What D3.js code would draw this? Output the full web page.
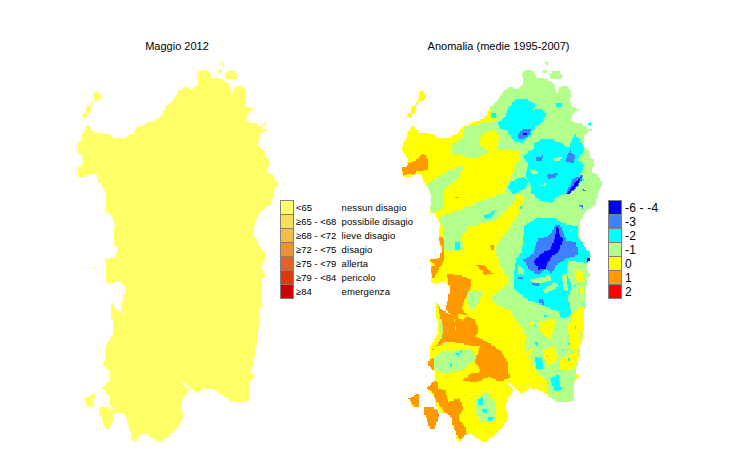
<!DOCTYPE html>
<html><head><meta charset="utf-8">
<script src="https://cdn.jsdelivr.net/npm/d3@7/dist/d3.min.js"></script>
<style>html,body{margin:0;padding:0;background:#fff}svg{display:block}text{font-family:"Liberation Sans",Arial,sans-serif;fill:#000}</style>
</head><body><div id="c"></div>
<script>
// Map sheets: each ring was traced on a sheet, offset here into one shared grid
const sheet = (dx,dy) => r => r.map(([x,y]) => [x+dx, y+dy]);
const south = sheet(0,585), nE = sheet(270,105), mE = sheet(300,495), sE = sheet(315,780);
const dots = list => list.map(([x,y]) => [[x,y],[x+6,y],[x+6,y+6],[x,y+6]]);

const coast = [[50,225],[53,205],[36,200],[40,190],[50,188],[47,172],[62,165],[72,145],[70,130],[82,124],[92,135],[90,150],[75,152],[64,165],[64,182],[52,192],[53,210],[50,225],[62,235],[70,248],[100,250],[115,252],[130,263],[165,262],[190,250],[200,232],[240,215],[262,208],[280,190],[285,170],[305,155],[325,125],[340,113],[370,115],[385,100],[380,67],[405,58],[420,70],[425,85],[445,85],[465,92],[480,105],[485,130],[495,112],[515,105],[530,130],[525,150],[530,170],[555,178],[535,190],[530,210],[545,222],[560,222],[585,240],[570,258],[565,285],[582,305],[585,322],[597,330],[592,365],[608,375],[623,398],[610,430],[603,465],[575,480],[555,515],[552,555],[575,600],[590,610],[575,655],[585,675],[575,690],[572,735],[568,815],[565,855],[558,885],[558,910],[548,935],[543,970],[555,977],[538,995],[535,1050],[515,1057],[490,1057],[465,1040],[435,1020],[405,1013],[385,1030],[365,1020],[345,1000],[330,993],[358,1020],[335,1050],[332,1075],[342,1095],[325,1130],[300,1155],[270,1177],[245,1165],[225,1150],[205,1160],[195,1178],[182,1165],[185,1150],[175,1135],[170,1105],[155,1090],[135,1090],[130,1075],[120,1065],[120,1045],[97,1015],[120,990],[118,965],[100,945],[105,910],[102,895],[130,850],[125,795],[125,757],[140,780],[165,792],[150,775],[160,745],[165,713],[150,693],[120,703],[108,693],[108,645],[103,630],[135,623],[140,595],[130,575],[135,520],[120,492],[103,485],[110,450],[103,420],[85,395],[78,370],[40,380],[25,380],[18,355],[35,350],[40,325],[18,300],[35,260]];
const islands = [
  south([[40,460],[75,445],[72,485],[55,488],[45,470]]),
  south([[90,485],[125,490],[132,510],[120,550],[105,550],[90,510]]),
  [[448,38],[462,35],[458,47]],
  [[445,60],[455,60],[455,70],[445,70]],
  [[460,72],[480,62],[497,65],[500,90],[470,90]],
  [[575,225],[590,213],[585,232]],
  [[583,238],[592,238],[592,244],[583,244]],
  south([[72,66],[78,66],[78,70],[72,70]])
];

// Anomaly classes, traced on the right-hand map
const classMinus1 = [
  [[255,150],[275,185],[285,210],[195,232],[188,262],[160,280],[155,310],[225,325],[270,305],[240,285],[245,250],[285,240],[300,255],[290,300],[345,300],[365,310],[340,365],[325,395],[310,430],[345,425],[375,440],[365,470],[355,495],[330,530],[310,560],[285,595],[300,645],[330,695],[270,745],[300,770],[330,780],[380,860],[375,900],[415,970],[445,995],[440,1025],[465,1055],[520,1055],[520,1000],[530,970],[540,930],[545,830],[555,780],[640,760],[640,0],[250,0]],
  [[85,400],[150,360],[195,345],[175,385],[130,420],[135,470],[105,490],[90,480],[80,420]],
  [[120,500],[185,478],[230,458],[300,432],[345,428],[350,450],[290,510],[210,530],[185,560],[190,600],[135,600],[135,570]],
  south([[135,0],[190,0],[190,15],[150,18],[135,15]]),
  south([[205,140],[250,140],[235,175],[215,200],[205,180]]),
  south([[100,340],[125,320],[215,310],[230,340],[190,375],[130,385],[100,370]]),
  south([[115,205],[150,240],[165,290],[110,300],[125,260]]),
  south([[225,470],[260,440],[285,470],[290,525],[245,530],[225,500]])
];
const yellowInGreen = [
  mE([[225,160],[255,175],[250,200],[225,195]]),
  mE([[240,215],[255,220],[252,235],[240,232]]),
  mE([[210,300],[250,270],[255,350],[225,345]]),
  mE([[120,320],[170,310],[150,345],[125,350]]),
  sE([[100,35],[150,40],[140,90],[110,70]]),
  sE([[75,35],[85,35],[85,50],[75,50]]),
  sE([[165,150],[215,120],[225,150],[200,180],[165,180]]),
  sE([[190,40],[225,20],[225,120],[195,120]]),
  sE([[110,120],[150,110],[160,150],[130,170]]),
  sE([[65,120],[85,115],[80,140],[70,135]]),
  ...dots([[400,780],[420,1005],[535,700],[540,730],[370,830],[470,1030],[500,1040]])
];
const classMinus2 = [
  nE([[22,115],[45,95],[55,70],[75,45],[115,45],[140,60],[125,75],[150,70],[170,85],[155,115],[135,125],[125,150],[95,175],[70,165],[50,135],[30,130]]),
  nE([[130,175],[150,165],[190,165],[215,175],[235,190],[255,145],[270,165],[285,195],[265,225],[285,240],[270,270],[285,285],[255,300],[240,325],[200,335],[185,355],[150,345],[125,325],[120,295],[105,270],[115,240],[100,215],[130,190]]),
  nE([[60,290],[100,275],[115,290],[105,310],[70,330],[55,310]]),
  nE([[200,55],[215,55],[215,68],[200,68]]),
  nE([[5,85],[18,85],[18,100],[5,100]]),
  mE([[75,30],[110,10],[165,10],[190,25],[235,35],[235,70],[270,105],[265,145],[205,135],[200,175],[215,210],[205,250],[215,300],[175,290],[125,270],[85,255],[40,220],[40,180],[50,130],[65,110]]),
  [[565,220],[578,215],[570,225]],
  [[165,575],[180,575],[180,600],[165,600]],
  [[250,500],[285,480],[280,495],[262,510]],
  sE([[90,140],[110,145],[115,175],[95,175]]),
  sE([[85,95],[100,95],[95,110]]),
  sE([[135,205],[160,195],[170,240],[150,245]]),
  sE([[160,0],[190,0],[195,20],[170,25]]),
  south([[165,325],[185,320],[175,335]]),
  south([[150,355],[158,355],[158,368],[150,368]]),
  south([[235,465],[250,455],[250,480],[235,480]]),
  south([[245,490],[262,490],[260,505],[248,505]]),
  south([[265,515],[280,515],[278,528],[265,528]]),
  ...dots([[440,915],[485,900],[505,925],[435,795],[465,840],[425,920],[545,760],[525,830],[520,705],[505,880],[440,1000],[400,825],[500,895],[360,470],[395,405]])
];
const greenFingers = [
  mE([[90,195],[150,180],[155,195],[110,210]]),
  mE([[125,225],[170,200],[175,215],[140,235]]),
  mE([[55,150],[75,165],[70,180],[55,175]]),
  nE([[190,220],[215,215],[212,225],[192,228]]),
  nE([[120,250],[145,262],[140,270],[122,262]]),
  nE([[150,300],[170,295],[165,305]]),
  mE([[185,180],[200,175],[205,230],[190,225]]),
  ...dots([[400,630],[360,570],[430,590],[510,540],[360,310]])
];
const classMinus3 = [
  nE([[80,155],[100,130],[122,130],[120,150],[95,165]]),
  nE([[140,215],[160,212],[155,225],[140,228]]),
  nE([[172,270],[205,262],[195,280],[175,282]]),
  nE([[225,230],[240,195],[255,215],[250,235]]),
  nE([[225,330],[250,280],[280,270],[265,305],[240,325]]),
  nE([[275,310],[290,315],[278,320]]),
  nE([[268,360],[282,358],[278,370]]),
  mE([[70,135],[100,115],[115,70],[145,65],[160,45],[165,30],[180,30],[190,50],[200,80],[215,75],[235,100],[235,120],[200,130],[170,150],[155,175],[140,160],[115,180],[90,165]]),
  mE([[55,185],[70,185],[70,195],[55,195]]),
  mE([[115,250],[135,258],[132,270],[118,265]]),
  mE([[95,205],[120,205],[115,215]]),
  mE([[215,80],[230,80],[228,100]])
];
const classMinus4 = [
  nE([[98,145],[112,140],[112,150],[100,152]]),
  nE([[232,325],[262,285],[275,275],[262,300],[238,328]]),
  mE([[100,140],[125,115],[150,105],[165,70],[172,30],[180,60],[190,70],[175,110],[150,130],[135,160],[115,165],[110,150]]),
  mE([[262,128],[270,128],[270,142],[262,142]])
];
const classPlus1 = [
  [[5,355],[20,345],[50,330],[70,310],[85,330],[85,360],[50,365],[40,375],[30,370],[10,378]],
  [[115,560],[130,560],[135,600],[135,625],[125,645],[115,660],[100,690],[92,655],[105,645],[88,630],[118,625],[125,590]],
  south([[140,88],[180,90],[215,105],[210,135],[195,165],[185,190],[205,215],[225,225],[235,245],[230,275],[270,295],[300,315],[325,355],[328,400],[300,410],[270,395],[225,412],[190,405],[215,385],[245,380],[225,350],[240,305],[225,305],[185,295],[170,270],[165,225],[130,190],[150,130]]),
  south([[112,172],[130,190],[160,215],[170,270],[185,295],[140,290],[100,310],[92,322],[125,280],[130,250],[120,210]]),
  south([[82,430],[95,410],[110,405],[115,430],[135,435],[145,470],[180,460],[190,490],[175,520],[195,545],[200,565],[180,585],[170,570],[155,525],[125,490],[105,460],[100,445]]),
  south([[25,460],[58,445],[60,488],[45,488]]),
  south([[72,482],[105,485],[118,510],[105,552],[90,552],[72,505]]),
  south([[230,60],[250,58],[265,75],[280,85],[255,90]]),
  south([[270,0],[282,0],[282,15],[272,15]]),
  [[165,440],[178,440],[178,445],[165,445]],
  south([[85,345],[100,340],[100,375],[90,385]])
];
const yellowHoles = [ south([[175,205],[200,212],[188,226],[173,218]]) ];

const anomalyLabels = ["-6 - -4","-3","-2","-1","0","1","2"];
const anomalyColors = ["#0000ff","#4080ff","#00ffff","#b3ff8c","#ffff00","#ff9900","#ff0000"];
const indexRanges = ["<65","\u226565 - <68","\u226568 - <72","\u226572 - <75","\u226575 - <79","\u226579 - <84","\u226584"];
const indexNames = ["nessun disagio","possibile disagio","lieve disagio","disagio","allerta","pericolo","emergenza"];
const indexColors = ["#ffff66","#f8de5c","#f2bb4c","#ea9238","#e06428","#d83a12","#cc0000"];
const titles = ["Maggio 2012","Anomalia (medie 1995-2007)"];

const W=730,H=450,cell=4;
const svg=d3.select("#c").append("svg").attr("width",W).attr("height",H);
const xL=d3.scaleLinear().domain([0,630]).range([70,280]);
const xR=d3.scaleLinear().domain([0,630]).range([395,605]);
const y=d3.scaleLinear().domain([0,1185]).range([50,445]);

const land=[coast,...islands];
const onLand=p=>land.some(r=>d3.polygonContains(r,p));
const layers=[
 [classMinus1,anomalyColors[3]],[yellowInGreen,anomalyColors[4]],[classMinus2,anomalyColors[2]],[greenFingers,anomalyColors[3]],
 [classMinus3,anomalyColors[1]],[classMinus4,anomalyColors[0]],[classPlus1,anomalyColors[5]],[yellowHoles,anomalyColors[4]]
];
function anomalyColor(p){
  const q=[p[0]-15,p[1]]; let col=anomalyColors[4];
  for(const [rings,c] of layers) if(rings.some(r=>d3.polygonContains(r,q))) col=c;
  return col;
}
const xCols=d3.range(0,640,cell), yRows=d3.range(20,1190,cell);
function raster(g,xs,colorOf){
  const runs=[];
  for(const v of yRows){
    let cur=null;
    for(const u of xCols){
      const p=[u+cell/2,v+cell/2];
      const c=onLand(p)?colorOf(p):null;
      if(cur&&cur.c===c){cur.u1=u+cell;}
      else{ if(cur&&cur.c)runs.push(cur); cur={c,u0:u,u1:u+cell,v}; }
    }
    if(cur&&cur.c)runs.push(cur);
  }
  g.selectAll("rect").data(runs).join("rect").attr("shape-rendering","crispEdges")
   .attr("x",d=>xs(d.u0)).attr("width",d=>xs(d.u1)-xs(d.u0))
   .attr("y",d=>y(d.v)).attr("height",d=>y(d.v+cell)-y(d.v)).attr("fill",d=>d.c);
}
raster(svg.append("g"),xL,()=>indexColors[0]);
raster(svg.append("g"),xR,anomalyColor);

svg.selectAll("text.title").data(titles).join("text").attr("class","title")
 .attr("x",(d,i)=>[177,498.5][i]).attr("y",50).attr("text-anchor","middle").attr("font-size",11).text(d=>d);

const band=d3.scaleBand().domain(d3.range(7)).range([200,298]);
function legendBoxes(x0,colors){
 svg.append("g").selectAll("rect").data(colors).join("rect").attr("shape-rendering","crispEdges")
  .attr("x",x0).attr("y",(d,i)=>band(i)).attr("width",13).attr("height",band.bandwidth())
  .attr("fill",d=>d).attr("stroke","#808080").attr("stroke-width",1);
}
legendBoxes(280.5,indexColors);
legendBoxes(608.5,anomalyColors);
const labels=(arr,x,size,ls)=>svg.append("g").selectAll("text").data(arr).join("text")
 .attr("x",x).attr("y",(d,i)=>band(i)+band.bandwidth()/2+size*0.36+0.5).attr("font-size",size).attr("letter-spacing",ls).text(d=>d);
labels(indexRanges,296,9.5,0);
labels(indexNames,341.5,9.5,0.12);
labels(anomalyLabels,625,12,0.2);
</script></body></html>
